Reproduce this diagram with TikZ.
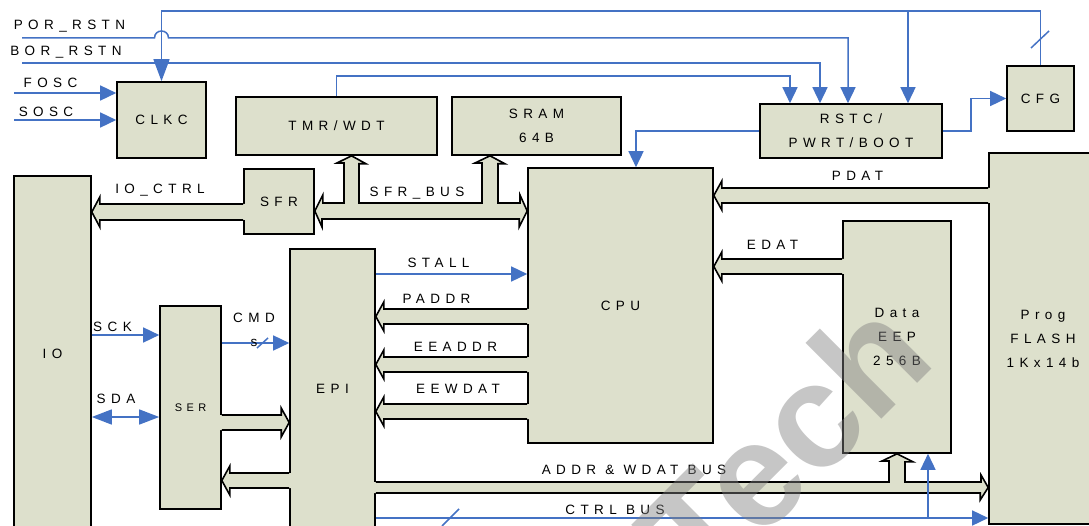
\documentclass[tikz,border=0pt]{standalone}
\usepackage{fontspec}
\setmainfont{Liberation Sans}
\newfontfamily\lblfam{Liberation Sans}[LetterSpace=40]
\usetikzlibrary{arrows.meta,calc}
\definecolor{bx}{RGB}{221,224,204}
\definecolor{bl}{RGB}{68,114,196}
\definecolor{wmgray}{RGB}{128,128,128}
\newcommand\lblfont{\lblfam\fontsize{13.5}{24}\selectfont}
\newcommand\smalllblfont{\lblfam\fontsize{11}{14}\selectfont}

\tikzset{
 box/.style={draw=black, line width=1.6pt, fill=bx, inner sep=0pt, align=center, font=\lblfont},
 lab/.style={inner sep=0pt, align=center, font=\lblfont, anchor=base},
 sig/.style={draw=bl, line width=1.5pt, -{Triangle[length=16pt,width=15pt]}},
 siglong/.style={draw=bl, line width=1.5pt, -{Triangle[length=22pt,width=16pt]}},
 sigboth/.style={draw=bl, line width=1.5pt, {Triangle[length=20pt,width=15pt]}-{Triangle[length=20pt,width=15pt]}},
 wire/.style={draw=bl, line width=1.5pt},
 busline/.style={draw=black, line width=1.6pt, line join=miter},
}

% horizontal bus, tip on the left: #1 tip anchor, #2 tail anchor, #3 top y, #4 bottom y
\newcommand\busL[4]{%
 \pgfmathsetmacro\bym{(#3+#4)/2}%
 \coordinate (bt) at (#1 |- 0,\bym);
 \coordinate (ba) at (#2 |- 0,#3);
 \coordinate (bb) at (#2 |- 0,#4);
 \coordinate (ha) at ($(bt |- ba)+(8,0)$);
 \coordinate (hb) at ($(bt |- bb)+(8,0)$);
 \fill[bx] ($(ba)+(2,0)$) -- (ha) -- ++(0,-7) -- (bt) -- ($(hb)+(0,7)$) -- (hb) -- ($(bb)+(2,0)$) -- cycle;
 \draw[busline] (ba) -- (ha) -- ++(0,-7) -- (bt) -- ($(hb)+(0,7)$) -- (hb) -- (bb);
}
% horizontal bus, tip on the right: #1 tail anchor, #2 tip anchor
\newcommand\busR[4]{%
 \pgfmathsetmacro\bym{(#3+#4)/2}%
 \coordinate (bt) at (#2 |- 0,\bym);
 \coordinate (ba) at (#1 |- 0,#3);
 \coordinate (bb) at (#1 |- 0,#4);
 \coordinate (ha) at ($(bt |- ba)+(-8,0)$);
 \coordinate (hb) at ($(bt |- bb)+(-8,0)$);
 \fill[bx] ($(ba)+(-2,0)$) -- (ha) -- ++(0,-7) -- (bt) -- ($(hb)+(0,7)$) -- (hb) -- ($(bb)+(-2,0)$) -- cycle;
 \draw[busline] (ba) -- (ha) -- ++(0,-7) -- (bt) -- ($(hb)+(0,7)$) -- (hb) -- (bb);
}

\begin{document}
\begin{tikzpicture}[x=1pt,y=-1pt]
\useasboundingbox (0,0) rectangle (1089,526);
\clip (0,0) rectangle (1089,526);

% ---------- blocks ----------
\node[box, minimum width=89pt, minimum height=76pt] (clkc) at (161.5,120) {CLKC};
\node[box, minimum width=201pt, minimum height=58pt] (tmr) at (336.5,126) {TMR/WDT};
\node[box, minimum width=169pt, minimum height=58pt] (sram) at (536.5,126) {SRAM\\64B};
\node[box, minimum width=182pt, minimum height=54pt] (rstc) at (851,131) {RSTC/\\PWRT/BOOT};
\node[box, minimum width=67pt, minimum height=65pt] (cfg) at (1040.5,98.5) {CFG};
\node[box, minimum width=77pt, minimum height=356pt] (io) at (52.5,354) {IO};
\node[box, minimum width=70pt, minimum height=65pt] (sfr) at (279,201.5) {SFR};
\node[box, minimum width=185pt, minimum height=275pt] (cpu) at (620.5,305.5) {CPU};
\node[box, minimum width=85pt, minimum height=280pt] (epi) at (332.5,389) {EPI};
\node[box, minimum width=61pt, minimum height=203pt, font=\smalllblfont] (ser) at (190.5,407.5) {SER};
\node[box, minimum width=108pt, minimum height=232pt] (eep) at (897,337) {Data\\EEP\\256B};
\node[box, minimum width=108pt, minimum height=371pt] (flash) at (1043,338.5) {Prog\\FLASH\\1Kx14b};

% ---------- fat buses ----------
\busL{io.east}{sfr.west}{204}{220}
\busL{epi.east}{cpu.west}{309}{324}
\busL{epi.east}{cpu.west}{357}{372}
\busL{epi.east}{cpu.west}{404}{419}
\busL{cpu.east}{flash.west}{188}{203}
\busL{cpu.east}{eep.west}{259}{274}
\busR{ser.east}{epi.west}{415}{430}
\busL{ser.east}{epi.west}{473}{488}

% SFR bus with branches to TMR/WDT and SRAM
\coordinate (s1) at (sfr.east |- 0,211);
\coordinate (s2) at (cpu.west |- 0,211);
\coordinate (s3) at (351.5,0 |- tmr.south);
\coordinate (s4) at (490,0 |- sram.south);
\path[busline, fill=bx] (s1) -- ++(8,-16) -- ++(0,8) -- (344,203) -- (344,163) -- ++(-7,0) -- (s3)
  -- ++(14.5,8) -- ++(-7,0) -- (359,203) -- (482,203) -- (482,163) -- ++(-7,0) -- (s4)
  -- ++(15,8) -- ++(-7,0) -- (498,203) -- (520,203) -- ++(0,-8) -- (s2) -- ++(-8,16)
  -- ++(0,-8) -- (322,219) -- ++(0,8) -- cycle;

% ADDR & WDAT bus with branch to Data EEP
\coordinate (a1) at (epi.east |- 0,482);
\coordinate (a2) at (epi.east |- 0,493);
\coordinate (a3) at (flash.west |- 0,487.5);
\fill[bx] ($(a1)+(-2,0)$) -- (a1) -- (889,482) -- (889,461) -- ++(-7,0) -- (eep.south) -- ++(16,8) -- ++(-8,0)
  -- (905,482) -- (981,482) -- ++(0,-7) -- (a3) -- ++(-8,12.5) -- ++(0,-7) -- (a2) -- ++(-2,0) -- cycle;
\draw[busline] (a1) -- (889,482) -- (889,461) -- ++(-7,0) -- (eep.south) -- ++(16,8) -- ++(-8,0)
  -- (905,482) -- (981,482) -- ++(0,-7) -- (a3) -- ++(-8,12.5) -- ++(0,-7) -- (a2);

% ---------- thin signals ----------
\coordinate (tc) at (clkc.north |- 0,11);
\draw[siglong] (cfg.north) |- (tc) -- (clkc.north);
\coordinate (jt) at (908,0 |- tc);
\draw[sig] (jt) -- (jt |- rstc.north);
\draw[wire] (1031,48) -- (1049,31);

\coordinate (por) at (22,38);
\draw[sig] (por) -- ($(clkc.north |- por)+(-7,0)$) .. controls +(0,-9.3) and +(0,-9.3) .. ($(clkc.north |- por)+(7,0)$)
  -- (848,38) -- (848,0 |- rstc.north);
\coordinate (bor) at (22,63);
\draw[sig] (bor) -- (820,63) -- (820,0 |- rstc.north);
\draw[sig] (tmr.north) |- (790,76) -- (790,0 |- rstc.north);

\coordinate (fosc) at (14,93);
\coordinate (sosc) at (14,120);
\draw[sig] (fosc) -- (clkc.west |- fosc);
\draw[sig] (sosc) -- (clkc.west |- sosc);

\draw[sig] (rstc.west) -| (636,0 |- cpu.north);
\draw[sig] (rstc.east) -- ++(28,0) |- (cfg.west);

\draw[sig] (io.east |- 0,335) -- (ser.west |- 0,335);
\draw[sigboth] (io.east |- 0,417) -- (ser.west |- 0,417);
\draw[sig] (ser.east |- 0,343) -- (epi.west |- 0,343);
\draw[wire] (257,348) -- (268,338);

\draw[sig] (epi.east |- 0,274) -- (cpu.west |- 0,274);

\coordinate (ct) at (epi.east |- 0,518);
\draw[sig] (ct) -- (flash.west |- ct);
\draw[sig] (928,0 |- ct) -- (928,0 |- eep.south);
\draw[wire] (442,526) -- (459,509);

% ---------- labels ----------
\node[lab] (lpor) at (69.5,30) {POR\_RSTN};
\node[lab] (lbor) at (66,56) {BOR\_RSTN};
\node[lab] (lfosc) at (50.5,88) {FOSC};
\node[lab] (lsosc) at (46,117) {SOSC};
\node[lab] (lioctrl) at (160,194) {IO\_CTRL};
\node[lab] (lsfrbus) at (417,197) {SFR\_BUS};
\node[lab] (lpdat) at (857.5,181) {PDAT};
\node[lab] (ledat) at (772.5,250) {EDAT};
\node[lab] (lstall) at (438.5,268) {STALL};
\node[lab] (lpaddr) at (436.5,304) {PADDR};
\node[lab] (leeaddr) at (455.5,352) {EEADDR};
\node[lab] (leewdat) at (458,393) {EEWDAT};
\node[lab] (lsck) at (112.5,331) {SCK};
\node[lab] (lsda) at (116,403) {SDA};
\node[lab, anchor=center] (lcmd) at (254,329.5) {CMD\\s};
\node[lab] (laddr) at (634,474) {ADDR \& WDAT BUS};
\node[lab] (lctrl) at (615,514) {CTRL BUS};

% ---------- watermark ----------
\node[rotate=45, text=wmgray, opacity=0.45, inner sep=0pt, font=\fontsize{148}{148}\selectfont\bfseries] (wm) at (783,443) {Tech};
\end{tikzpicture}
\end{document}
